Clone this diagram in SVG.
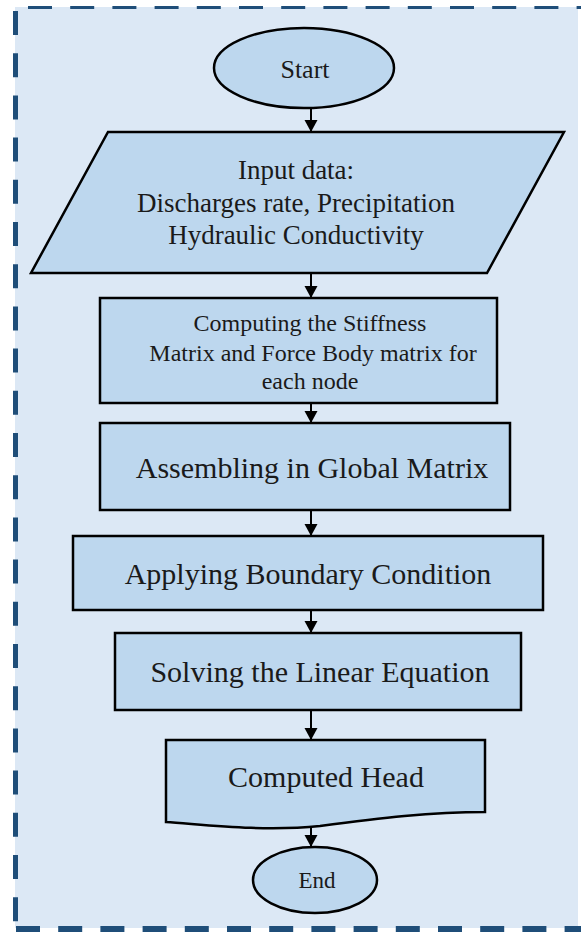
<svg xmlns="http://www.w3.org/2000/svg" width="581" height="932" viewBox="0 0 581 932">
<defs>
<style>
.node{fill:#bdd7ee;stroke:#000;stroke-width:2.5}
.t{font-family:"Liberation Serif","Times New Roman",serif;fill:#1a1a1a;text-anchor:middle}
.edge{stroke:#000;stroke-width:2;fill:none;marker-end:url(#ah)}
.dash{stroke:#1f4e79;fill:none}
</style>
<marker id="ah" markerUnits="userSpaceOnUse" markerWidth="14" markerHeight="14" refX="12" refY="6.5" orient="auto">
<path d="M0,0 L12,6.5 L0,13 Z" fill="#000"/>
</marker>
</defs>
<rect x="0" y="0" width="581" height="932" fill="#ffffff"/>
<rect x="15" y="7" width="563" height="921" fill="#dce8f5"/>
<g id="frame">
<line class="dash" x1="15.5" y1="11" x2="15.5" y2="926" stroke-width="5" stroke-dasharray="24 18.2"/>
<line class="dash" x1="28" y1="7.5" x2="581" y2="7.5" stroke-width="3" stroke-dasharray="24 18.2"/>
<line class="dash" x1="16" y1="929" x2="581" y2="929" stroke-width="6" stroke-dasharray="24 18.2"/>
</g>
<g id="connectors">
<line class="edge" x1="311" y1="108" x2="311" y2="132"/>
<line class="edge" x1="311" y1="273" x2="311" y2="298"/>
<line class="edge" x1="311" y1="403" x2="311" y2="423"/>
<line class="edge" x1="311" y1="510" x2="311" y2="536"/>
<line class="edge" x1="311" y1="610" x2="311" y2="633"/>
<line class="edge" x1="311" y1="710" x2="311" y2="740"/>
<line class="edge" x1="311" y1="826" x2="311" y2="847"/>
</g>
<g id="start">
<ellipse class="node" cx="304" cy="68" rx="90" ry="40"/>
<text class="t" x="305" y="78" font-size="26">Start</text>
</g>
<g id="input">
<polygon class="node" points="108,132 564,132 487,273 31,273"/>
<text class="t" x="296" y="179" font-size="27">Input data:</text>
<text class="t" x="296" y="212" font-size="27">Discharges rate, Precipitation</text>
<text class="t" x="296" y="244" font-size="27">Hydraulic Conductivity</text>
</g>
<g id="compute">
<rect class="node" x="100" y="298" width="397" height="105"/>
<text class="t" x="310" y="331" font-size="24">Computing the Stiffness</text>
<text class="t" x="313" y="361" font-size="24">Matrix and Force Body matrix for</text>
<text class="t" x="310" y="389" font-size="24">each node</text>
</g>
<g id="assemble">
<rect class="node" x="100" y="423" width="410" height="87"/>
<text class="t" x="312" y="478" font-size="30">Assembling in Global Matrix</text>
</g>
<g id="boundary">
<rect class="node" x="73" y="536" width="470" height="74"/>
<text class="t" x="308" y="584" font-size="30">Applying Boundary Condition</text>
</g>
<g id="solve">
<rect class="node" x="115" y="633" width="406" height="77"/>
<text class="t" x="320" y="682" font-size="30">Solving the Linear Equation</text>
</g>
<g id="head">
<path class="node" d="M166,740 H485 V812 C430,812 380,818 320,826 C260,832 200,824 166,822 Z"/>
<text class="t" x="326" y="787" font-size="30">Computed Head</text>
</g>
<g id="end">
<ellipse class="node" cx="315" cy="880" rx="62" ry="33"/>
<text class="t" x="317" y="888" font-size="23">End</text>
</g>
</svg>
